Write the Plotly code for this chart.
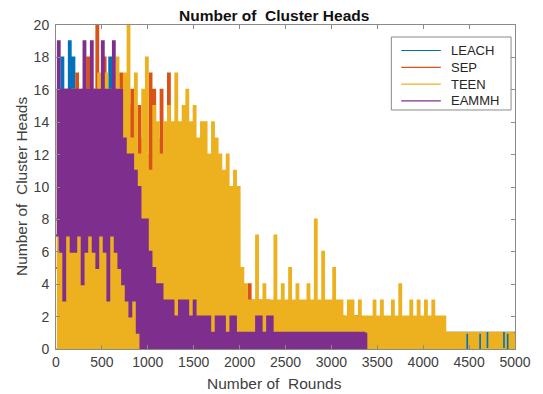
import plotly.graph_objects as go

# Simulation rounds, sampled every 20 rounds
rounds = list(range(0, 5001, 20))

# Number of cluster heads per round for each protocol
leach_heads = [
    8, 16, 7, 18, 6, 15, 8, 19, 7, 18,
    6, 16, 5, 15, 6, 16, 7, 16, 5, 15,
    6, 15, 5, 16, 6, 15, 4, 16, 6, 18,
    5, 16, 6, 15, 5, 15, 4, 14, 5, 13,
    3, 13, 4, 12, 3, 11, 2, 12, 3, 10,
    2, 10, 3, 9, 2, 9, 1, 8, 2, 8,
    1, 7, 2, 8, 1, 7, 2, 6, 1, 7,
    1, 6, 2, 5, 1, 6, 0, 5, 1, 5,
    0, 4, 1, 5, 0, 4, 1, 3, 0, 4,
    1, 3, 0, 4, 1, 3, 0, 3, 1, 2,
    0, 3, 1, 2, 0, 3, 0, 2, 1, 2,
    0, 2, 1, 2, 0, 1, 0, 2, 1, 1,
    0, 2, 0, 1, 1, 2, 0, 1, 0, 2,
    1, 0, 2, 1, 0, 1, 2, 0, 1, 0,
    2, 1, 0, 1, 0, 2, 1, 0, 1, 0,
    1, 0, 1, 2, 0, 1, 0, 1, 0, 1,
    0, 1, 1, 0, 2, 0, 1, 0, 1, 0,
    1, 0, 1, 0, 0, 1, 0, 1, 1, 0,
    1, 0, 1, 0, 1, 0, 0, 1, 0, 1,
    0, 1, 0, 1, 1, 0, 1, 0, 1, 0,
    1, 0, 0, 1, 0, 1, 0, 1, 0, 1,
    0, 1, 0, 1, 0, 1, 0, 1, 0, 1,
    0, 1, 0, 1, 0, 1, 0, 1, 0, 1,
    0, 1, 0, 1, 0, 1, 0, 1, 0, 1,
    0, 1, 0, 1, 0, 1, 0, 1, 0, 1, 0,
]

sep_heads = [
    5, 16, 6, 15, 5, 16, 6, 14, 4, 16,
    6, 17, 5, 15, 6, 16, 4, 18, 5, 15,
    6, 16, 20, 5, 16, 6, 18, 5, 16, 6,
    15, 5, 16, 6, 14, 17, 5, 15, 6, 15,
    8, 16, 6, 12, 4, 15, 5, 13, 6, 12,
    5, 17, 4, 16, 5, 13, 3, 16, 4, 11,
    3, 17, 4, 10, 3, 10, 2, 11, 3, 9,
    2, 9, 3, 8, 2, 9, 1, 8, 2, 7,
    1, 7, 2, 6, 1, 7, 2, 6, 1, 5,
    1, 5, 0, 6, 1, 4, 0, 5, 1, 4,
    0, 4, 1, 3, 0, 4, 1, 3, 0, 3,
    1, 3, 0, 2, 1, 3, 0, 2, 1, 2,
    0, 2, 1, 2, 0, 1, 0, 2, 1, 2,
    0, 1, 2, 0, 1, 2, 0, 1, 0, 2,
    1, 0, 2, 1, 0, 1, 0, 2, 1, 0,
    1, 2, 0, 1, 0, 1, 2, 0, 1, 0,
    1, 0, 1, 2, 0, 1, 0, 1, 0, 1,
    0, 1, 0, 1, 1, 0, 1, 0, 1, 0,
    1, 0, 1, 0, 1, 0, 0, 1, 0, 1,
    0, 1, 0, 1, 0, 1, 0, 1, 1, 0,
    1, 0, 1, 0, 1, 0, 1, 0, 1, 0,
]

teen_heads = [
    0, 16, 0, 15, 0, 16, 0, 14, 0, 16,
    0, 15, 0, 16, 0, 14, 0, 16, 0, 15,
    0, 16, 0, 17, 0, 16, 0, 17, 0, 16,
    0, 16, 0, 18, 0, 16, 0, 17, 0, 20,
    0, 13, 0, 17, 0, 12, 0, 16, 0, 18,
    1, 11, 0, 15, 1, 14, 0, 12, 1, 14,
    1, 15, 0, 14, 2, 17, 1, 14, 0, 15,
    1, 16, 0, 14, 1, 15, 0, 13, 2, 14,
    1, 14, 0, 12, 1, 14, 0, 13, 1, 12,
    0, 11, 1, 12, 0, 10, 1, 11, 0, 10,
    1, 5, 0, 4, 1, 3, 0, 3, 1, 7,
    0, 3, 1, 4, 0, 3, 1, 3, 0, 7,
    1, 3, 0, 4, 1, 3, 0, 5, 1, 3,
    0, 4, 1, 3, 0, 3, 1, 4, 0, 3,
    1, 8, 0, 3, 1, 6, 0, 3, 1, 3,
    0, 5, 1, 3, 0, 3, 1, 2, 0, 3,
    1, 3, 0, 2, 1, 3, 0, 2, 1, 2,
    0, 2, 0, 3, 0, 2, 0, 3, 0, 2,
    0, 2, 0, 3, 0, 2, 0, 4, 0, 2,
    0, 2, 0, 3, 0, 2, 0, 3, 0, 2,
    0, 3, 0, 2, 0, 3, 0, 2, 0, 2,
    0, 2, 0, 1, 0, 1, 0, 1, 0, 1,
    0, 1, 0, 1, 1, 0, 1, 0, 1, 0,
    1, 1, 0, 1, 0, 0, 1, 0, 1, 0,
    1, 0, 1, 0, 0, 1, 1, 0, 1, 0, 1,
]

eammh_heads = [
    7, 19, 6, 16, 3, 16, 7, 16, 6, 16,
    6, 16, 7, 16, 4, 19, 6, 16, 7, 19,
    6, 16, 5, 16, 7, 19, 6, 16, 3, 16,
    7, 19, 6, 16, 5, 16, 4, 13, 3, 12,
    2, 12, 3, 11, 1, 10, 0, 8, 0, 8,
    0, 6, 0, 5, 0, 4, 0, 4, 0, 3,
    0, 3, 0, 3, 0, 2, 0, 3, 0, 3,
    0, 3, 0, 2, 0, 3, 0, 2, 0, 2,
    0, 2, 0, 2, 0, 1, 0, 2, 0, 2,
    0, 2, 0, 1, 0, 2, 0, 2, 0, 1,
    0, 1, 0, 1, 0, 1, 0, 1, 0, 2,
    0, 2, 0, 1, 0, 2, 0, 2, 0, 1,
    0, 1, 0, 1, 0, 1, 0, 1, 0, 1,
    0, 1, 0, 1, 0, 1, 0, 1, 0, 1,
    0, 1, 0, 1, 0, 1, 0, 1, 0, 1,
    0, 1, 0, 1, 0, 1, 0, 1, 0, 1,
    0, 1, 0, 1, 0, 1, 0, 1, 0, 1,
]

x_ticks = list(range(0, 5001, 500))
y_ticks = list(range(0, 21, 2))

series_names = ["LEACH", "SEP", "TEEN", "EAMMH"]
series_values = [leach_heads, sep_heads, teen_heads, eammh_heads]
series_colors = ["#0072BD", "#D95319", "#EDB120", "#7E2F8E"]

font_family = "Liberation Sans, Arial, Helvetica, sans-serif"
text_gray = "#404040"
axis_gray = "#8a8a8a"

fig = go.Figure()
for name, values, color in zip(series_names, series_values, series_colors):
    fig.add_trace(go.Scatter(
        x=rounds[:len(values)],
        y=values,
        mode="lines",
        name=name,
        showlegend=False,
        line=dict(color=color, width=2, shape="hv", simplify=False),
    ))

axis_common = dict(
    showline=True,
    linecolor=axis_gray,
    linewidth=1,
    mirror="ticks",
    ticks="inside",
    ticklen=4,
    tickcolor=axis_gray,
    showgrid=False,
    zeroline=False,
    tickfont=dict(family=font_family, size=14, color=text_gray),
)

fig.update_xaxes(range=[0, 5000], tickvals=x_ticks, **axis_common)
fig.update_yaxes(range=[0, 20], tickvals=y_ticks, ticklabelstandoff=3, **axis_common)

# Legend box drawn in axis-domain coordinates (top right corner of the axes)
box_left, box_right, box_top, box_bottom = 0.7306, 0.9914, 0.963, 0.7377
sample_x0, sample_x1, label_x = 0.7522, 0.8384, 0.8556
row_y = [0.9213, 0.8694, 0.8176, 0.7657]

shapes = [dict(type="rect", xref="x domain", yref="y domain",
               x0=box_left, x1=box_right, y0=box_bottom, y1=box_top,
               line=dict(color=axis_gray, width=1), fillcolor="white", layer="above")]
annotations = []
for name, color, yy in zip(series_names, series_colors, row_y):
    shapes.append(dict(type="line", xref="x domain", yref="y domain",
                       x0=sample_x0, x1=sample_x1, y0=yy, y1=yy,
                       line=dict(color=color, width=1.2), layer="above"))
    annotations.append(dict(text=name, xref="x domain", yref="y domain",
                            x=label_x, y=yy, xanchor="left", yanchor="middle",
                            showarrow=False,
                            font=dict(family=font_family, size=13, color="#262626")))

annotations += [
    dict(text="<b>Number of\u00a0 Cluster Heads</b>", xref="paper", yref="paper",
         x=0.476, y=1.0293, yanchor="middle", showarrow=False,
         font=dict(family=font_family, size=15.5, color="#111111")),
    dict(text="Number of\u00a0 Rounds", xref="paper", yref="paper",
         x=0.476, y=0, yanchor="middle", showarrow=False, yshift=-34,
         font=dict(family=font_family, size=15.5, color=text_gray)),
    dict(text="Number of\u00a0 Cluster Heads", xref="paper", yref="paper",
         x=0, y=0.5, xanchor="center", showarrow=False, textangle=-90, xshift=-35,
         font=dict(family=font_family, size=15.5, color=text_gray)),
]

fig.update_layout(
    width=543,
    height=394,
    margin=dict(l=56, r=23, t=25, b=45),
    paper_bgcolor="white",
    plot_bgcolor="white",
    font=dict(family=font_family, color=text_gray),
    showlegend=False,
    shapes=shapes,
    annotations=annotations,
)

fig.write_html("out.html")
